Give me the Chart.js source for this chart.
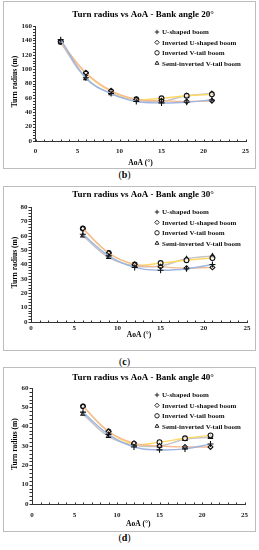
<!DOCTYPE html>
<html lang="en">
<head>
<meta charset="UTF-8">
<title>Turn radius vs AoA</title>
<script src="https://cdn.jsdelivr.net/npm/chart.js"></script>
<style>
  body { margin: 0; width: 259px; height: 550px; background: #fff; position: relative; overflow: hidden; font-family: "Liberation Serif", serif; }
  .panel { position: absolute; left: 3px; width: 251px; border: 1px solid #bdbdbd; }
  .panel canvas { display: block; }
  .cap { position: absolute; left: 0; width: 249px; text-align: center; font-size: 10px; line-height: 12px; color: #000; }
</style>
</head>
<body>
<div class="panel" style="top:1px;height:166px"><canvas id="chart20" width="251" height="166"></canvas></div>
<div class="cap" style="top:169px">(<b>b</b>)</div>
<div class="panel" style="top:186px;height:163px"><canvas id="chart30" width="251" height="163"></canvas></div>
<div class="cap" style="top:356px">(<b>c</b>)</div>
<div class="panel" style="top:367px;height:163px"><canvas id="chart40" width="251" height="163"></canvas></div>
<div class="cap" style="top:532px">(<b>d</b>)</div>

<script>
// series names and AoA categories
const seriesNames = ['U-shaped boom', 'Inverted U-shaped boom', 'Inverted V-tail boom', 'Semi-inverted V-tail boom'];
const aoa20 = [3, 6, 9, 12, 15, 18, 21];
const aoa = [6, 9, 12, 15, 18, 21];
const xTicks = [0, 5, 10, 15, 20, 25];

// bank angle 20
const uShaped20 = [141, 88, 66, 55, 53, 54, 57];
const invU20 = [138, 95, 70, 58, 56, 55, 56];
const invV20 = [138, 94, 69, 58, 59.5, 63, 65];
const semiV20 = [137, 87, 66, 57, 55, 63, 66];
const yTicks20 = [0, 20, 40, 60, 80, 100, 120, 140, 160];

// bank angle 30
const uShaped30 = [61, 46, 38, 36, 37, 40];
const invU30 = [65, 48, 40, 38.5, 37.5, 38];
const invV30 = [65, 48, 40, 41, 43, 44.5];
const semiV30 = [60, 45, 39, 39, 44, 46];
const yTicks30 = [0, 10, 20, 30, 40, 50, 60, 70, 80];

// bank angle 40
const uShaped40 = [47.5, 36, 29.5, 28, 28.5, 31];
const invU40 = [50.5, 37.5, 31.5, 30, 29.5, 29.5];
const invV40 = [50.5, 37.5, 31, 32, 34, 35.5];
const semiV40 = [46.5, 35, 30.5, 30, 33.5, 34.5];
const yTicks40 = [0, 10, 20, 30, 40, 50, 60];

const lineColors = ['#9db5e0', '#f5bb94', '#ffd966', '#c4c4c4'];
const markers = ['cross', 'rectRot', 'circle', 'triangle'];
const serif = 'Liberation Serif';

// minor ticks, titles and the in-plot legend
const deco = {
  id: 'deco',
  afterDraw(chart) {
    const o = chart.options.plugins.deco;
    const { ctx, chartArea: a, scales: { x, y } } = chart;
    ctx.save();
    ctx.strokeStyle = '#333';
    ctx.lineWidth = 1;
    ctx.beginPath();
    for (let v = 0; v <= o.yMax; v += o.yMinor) {
      const py = Math.round(y.getPixelForValue(v)) + 0.5;
      ctx.moveTo(a.left - 2.5, py);
      ctx.lineTo(a.left, py);
    }
    for (let v = 0; v <= 25; v += 1) {
      const px = Math.round(x.getPixelForValue(v)) + 0.5;
      ctx.moveTo(px, a.bottom - 1.5);
      ctx.lineTo(px, a.bottom + 1);
    }
    ctx.stroke();

    ctx.fillStyle = '#000';
    ctx.textAlign = 'center';
    ctx.textBaseline = 'middle';
    ctx.font = `bold 9px "${serif}"`;
    ctx.fillText(o.title, 139, o.titleY);

    ctx.font = `bold 7.5px "${serif}"`;
    ctx.fillText('AoA (°)', (a.left + a.right) / 2, a.bottom + o.xTitleGap);
    ctx.save();
    ctx.translate(11, (a.top + a.bottom) / 2 - 2);
    ctx.rotate(-Math.PI / 2);
    ctx.fillText('Turn radius (m)', 0, 0);
    ctx.restore();

    ctx.font = `bold 7px "${serif}"`;
    ctx.textAlign = 'left';
    chart.data.datasets.forEach((ds, i) => {
      const ly = o.legendY + i * 10.4;
      ctx.strokeStyle = '#222';
      ctx.fillStyle = '#fff';
      Chart.helpers.drawPoint(ctx, { pointStyle: ds.pointStyle, radius: 2.2, borderWidth: 1, rotation: 0 }, 153, ly);
      ctx.fillStyle = '#111';
      ctx.fillText(ds.label, 158, ly + 0.5);
    });
    ctx.restore();
  }
};

function makePanel(id, title, xs, series, yTicks, yMinor, box) {
  const yMax = yTicks[yTicks.length - 1];
  return new Chart(document.getElementById(id), {
    type: 'line',
    data: {
      datasets: series.map((vals, i) => ({
        label: seriesNames[i],
        data: xs.map((v, j) => ({ x: v, y: vals[j] })),
        borderColor: lineColors[i],
        borderWidth: 1.4,
        tension: 0.4,
        pointStyle: markers[i],
        pointRadius: i === 0 ? 3 : 2.4,
        pointBorderColor: '#111',
        pointBackgroundColor: 'rgba(255,255,255,0.7)',
        pointBorderWidth: 1.1
      }))
    },
    options: {
      responsive: false,
      animation: false,
      layout: { padding: { left: 0, right: box.padR, top: box.padT, bottom: 0 } },
      plugins: {
        legend: { display: false },
        tooltip: { enabled: false },
        deco: { title, yMax, yMinor, titleY: box.titleY, xTitleGap: box.xTitleGap, legendY: box.legendY }
      },
      scales: {
        x: {
          type: 'linear',
          min: 0,
          max: 25,
          afterBuildTicks: s => { s.ticks = xTicks.map(v => ({ value: v })); },
          afterFit: s => { s.height = box.xH; },
          grid: { display: false, drawTicks: false },
          border: { display: true, color: '#333', width: 1 },
          ticks: { padding: box.xPad, color: '#222', font: { family: serif, size: 7, weight: 'bold' } }
        },
        y: {
          min: 0,
          max: yMax,
          afterBuildTicks: s => { s.ticks = yTicks.map(v => ({ value: v })); },
          afterFit: s => { s.width = box.yW; },
          grid: { display: false, drawTicks: false },
          border: { display: true, color: '#333', width: 1 },
          ticks: { padding: 3.5, color: '#222', font: { family: serif, size: 7, weight: 'bold' } }
        }
      }
    },
    plugins: [deco]
  });
}

makePanel('chart20', 'Turn radius vs AoA - Bank angle 20°', aoa20,
  [uShaped20, invU20, invV20, semiV20], yTicks20, 4,
  { padR: 8, padT: 24, xH: 27, yW: 31.5, titleY: 13, xTitleGap: 22, legendY: 30, xPad: 6 });

makePanel('chart30', 'Turn radius vs AoA - Bank angle 30°', aoa,
  [uShaped30, invU30, invV30, semiV30], yTicks30, 2,
  { padR: 8, padT: 20, xH: 28, yW: 27, titleY: 8, xTitleGap: 13, legendY: 25, xPad: 2 });

makePanel('chart40', 'Turn radius vs AoA - Bank angle 40°', aoa,
  [uShaped40, invU40, invV40, semiV40], yTicks40, 2,
  { padR: 7, padT: 20, xH: 27, yW: 28, titleY: 10, xTitleGap: 20, legendY: 27, xPad: 7 });
</script>
</body>
</html>
